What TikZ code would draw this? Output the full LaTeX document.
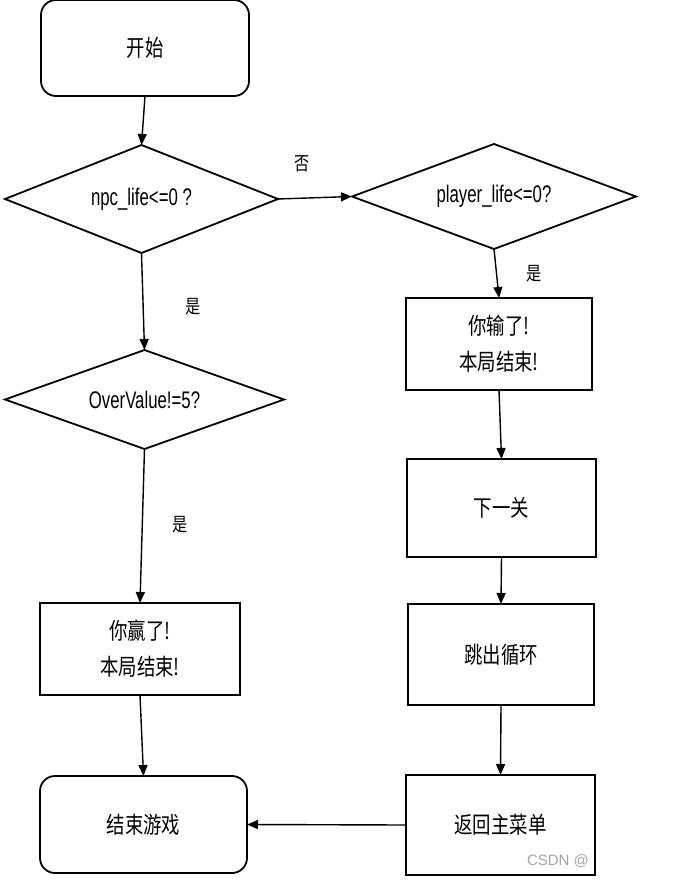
\documentclass[tikz,border=0pt]{standalone}
\usepackage{fontspec}
\setmainfont[FakeStretch=0.70]{Liberation Sans}
\newfontfamily\cjk[FakeStretch=0.80]{Noto Sans CJK SC}
\newfontfamily\wm{Liberation Sans}
\usetikzlibrary{shapes.geometric,arrows.meta}
\begin{document}
\begin{tikzpicture}[x=1pt,y=-1pt,
  every node/.style={inner sep=0pt,outer sep=0pt},
  term/.style={draw,line width=1.8pt,rounded corners=15pt,font=\cjk\fontsize{23}{28}\selectfont,align=center},
  proc/.style={draw,line width=1.8pt,font=\cjk\fontsize{23}{36}\selectfont,align=center},
  decis/.style={draw,diamond,line width=1.8pt,font=\fontsize{24}{26}\selectfont},
  lab/.style={font=\cjk\fontsize{19}{22}\selectfont},
  arr/.style={line width=1.4pt,-{Triangle[length=11pt,width=9pt]}}]
\useasboundingbox (0,0) rectangle (692,880);
\node[term,minimum width=208pt,minimum height=96pt] (start) at (145,48) {开始};
\node[decis,aspect=2.53,minimum width=273pt,minimum height=108pt] (d1) at (141.5,199) {npc\_life<=0 ?};
\node[decis,aspect=2.7,minimum width=284pt,minimum height=105pt] (d2) at (494,196.5) {player\_life<=0?};
\node[decis,aspect=2.82,minimum width=279pt,minimum height=99pt] (d3) at (144.5,399.5) {OverValue!=5?};
\node[proc,minimum width=186pt,minimum height=92pt] (lose) at (499,344) {你输了!\\本局结束!};
\node[proc,minimum width=189pt,minimum height=98pt] (next) at (501.5,508) {下一关};
\node[proc,minimum width=186pt,minimum height=101pt] (brk) at (501,654.5) {跳出循环};
\node[proc,minimum width=189pt,minimum height=100pt] (menu) at (500.5,825) {返回主菜单};
\node[proc,minimum width=200pt,minimum height=92pt] (win) at (140,649) {你赢了!\\本局结束!};
\node[term,minimum width=207pt,minimum height=97pt] (end) at (143.5,824.5) {结束游戏};
\draw[arr] (start.south) -- (d1.north);
\draw[arr] (d1.east) -- (d2.west) node[lab,pos=0.33,above=26pt] (no) {否};
\draw[arr] (d2.south) -- (lose.north) node[lab,midway,right=30pt] (y1) {是};
\draw[arr] (lose.south) -- (next.north);
\draw[arr] (next.south) -- (brk.north);
\draw[arr] (brk.south) -- (menu.north);
\draw[arr] (menu.west) -- (end.east);
\draw[arr] (d1.south) -- (d3.north) node[lab,pos=0.55,right=42pt] (y2) {是};
\draw[arr] (d3.south) -- (win.north) node[lab,pos=0.49,right=30pt] (y3) {是};
\draw[arr] (win.south) -- (end.north);
\node[font=\wm\fontsize{15}{18}\selectfont,text=gray!70,anchor=west] (wmk) at (527,861) {CSDN @};
\end{tikzpicture}
\end{document}
